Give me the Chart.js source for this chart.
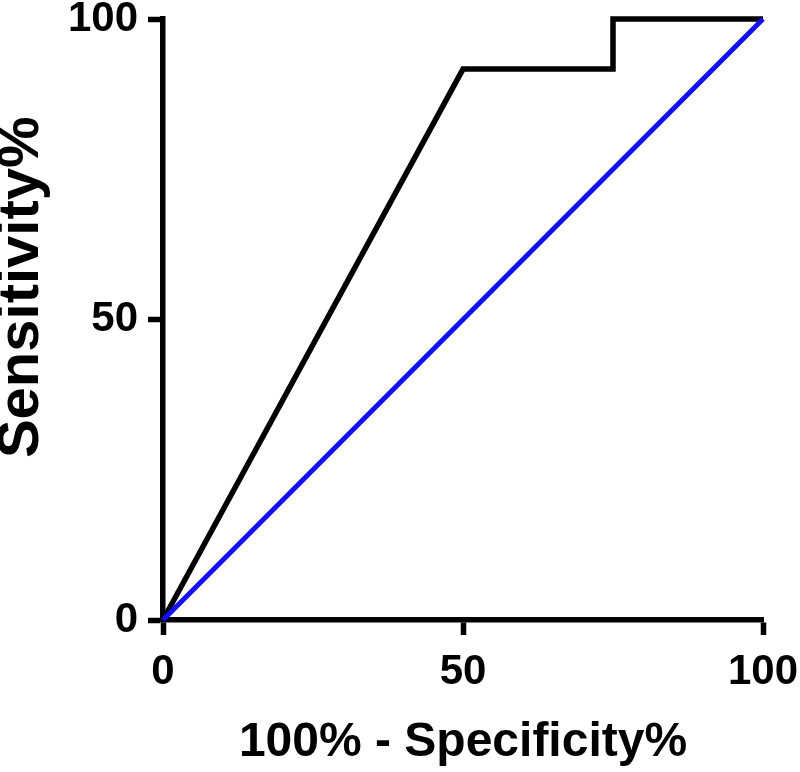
<!DOCTYPE html>
<html>
<head>
<meta charset="utf-8">
<script src="https://cdn.jsdelivr.net/npm/chart.js@4"></script>
<style>
  html, body { margin: 0; padding: 0; background: #fff; }
  #rocChart { display: block; }
</style>
</head>
<body>
<canvas id="rocChart" width="800" height="772"></canvas>
<script>
// ROC curve (100% - specificity vs sensitivity)
var rocX = [0, 50, 75, 75, 100];
var rocY = [0, 91.67, 91.67, 100, 100];
// chance line
var refX = [0, 100];
var refY = [0, 100];
var tickValues = [0, 50, 100];

function toPoints(xs, ys) {
    var pts = [];
    for (var i = 0; i < xs.length; i++) {
        pts.push({ x: xs[i], y: ys[i] });
    }
    return pts;
}

document.addEventListener('DOMContentLoaded', function() {
    var ctx = document.getElementById('rocChart');
    var axisFont = { family: 'Arial, "Liberation Sans", sans-serif', weight: 'bold' };

    new Chart(ctx, {
        type: 'scatter',
        data: {
            datasets: [{
                label: 'Reference',
                data: toPoints(refX, refY),
                showLine: true,
                borderColor: '#1010f0',
                borderWidth: 5,
                pointRadius: 0,
                clip: false
            }, {
                label: 'ROC',
                data: toPoints(rocX, rocY),
                showLine: true,
                borderColor: '#000',
                borderWidth: 5.5,
                pointRadius: 0,
                borderJoinStyle: 'miter',
                clip: false
            }]
        },
        options: {
            responsive: false,
            animation: false,
            layout: {
                padding: { top: 19, right: 37, left: 0, bottom: 0 }
            },
            plugins: {
                legend: { display: false },
                tooltip: { enabled: false }
            },
            scales: {
                x: {
                    type: 'linear',
                    min: 0,
                    max: 100,
                    afterBuildTicks: function(scale) {
                        scale.ticks = tickValues.map(function(v) { return { value: v }; });
                    },
                    afterFit: function(scale) {
                        scale.height = 152;
                        scale.paddingLeft = 0;
                        scale.paddingRight = 0;
                    },
                    border: { display: true, width: 5.5, color: '#000' },
                    grid: {
                        drawOnChartArea: false,
                        drawTicks: true,
                        tickLength: 15,
                        tickWidth: 5.5,
                        tickColor: '#000'
                    },
                    ticks: {
                        color: '#000',
                        padding: 12,
                        maxRotation: 0,
                        font: Object.assign({ size: 42 }, axisFont)
                    },
                    title: {
                        display: true,
                        text: '100% - Specificity%',
                        color: '#000',
                        padding: { top: 0, bottom: 0 },
                        font: Object.assign({ size: 48, lineHeight: 1.2 }, axisFont)
                    }
                },
                y: {
                    type: 'linear',
                    min: 0,
                    max: 100,
                    afterBuildTicks: function(scale) {
                        scale.ticks = tickValues.map(function(v) { return { value: v }; });
                    },
                    afterFit: function(scale) {
                        scale.width = 163;
                        scale.paddingTop = 0;
                        scale.paddingBottom = 0;
                    },
                    border: { display: true, width: 5.5, color: '#000' },
                    grid: {
                        drawOnChartArea: false,
                        drawTicks: true,
                        tickLength: 15,
                        tickWidth: 5.5,
                        tickColor: '#000'
                    },
                    ticks: {
                        color: '#000',
                        padding: 10,
                        font: Object.assign({ size: 42 }, axisFont)
                    },
                    title: {
                        display: true,
                        // leading spaces nudge the label up, as in the original
                        text: '    Sensitivity%',
                        color: '#000',
                        padding: { top: 0, bottom: 0 },
                        font: Object.assign({ size: 58, lineHeight: 0.75 }, axisFont)
                    }
                }
            }
        }
    });
});
</script>
</body>
</html>
